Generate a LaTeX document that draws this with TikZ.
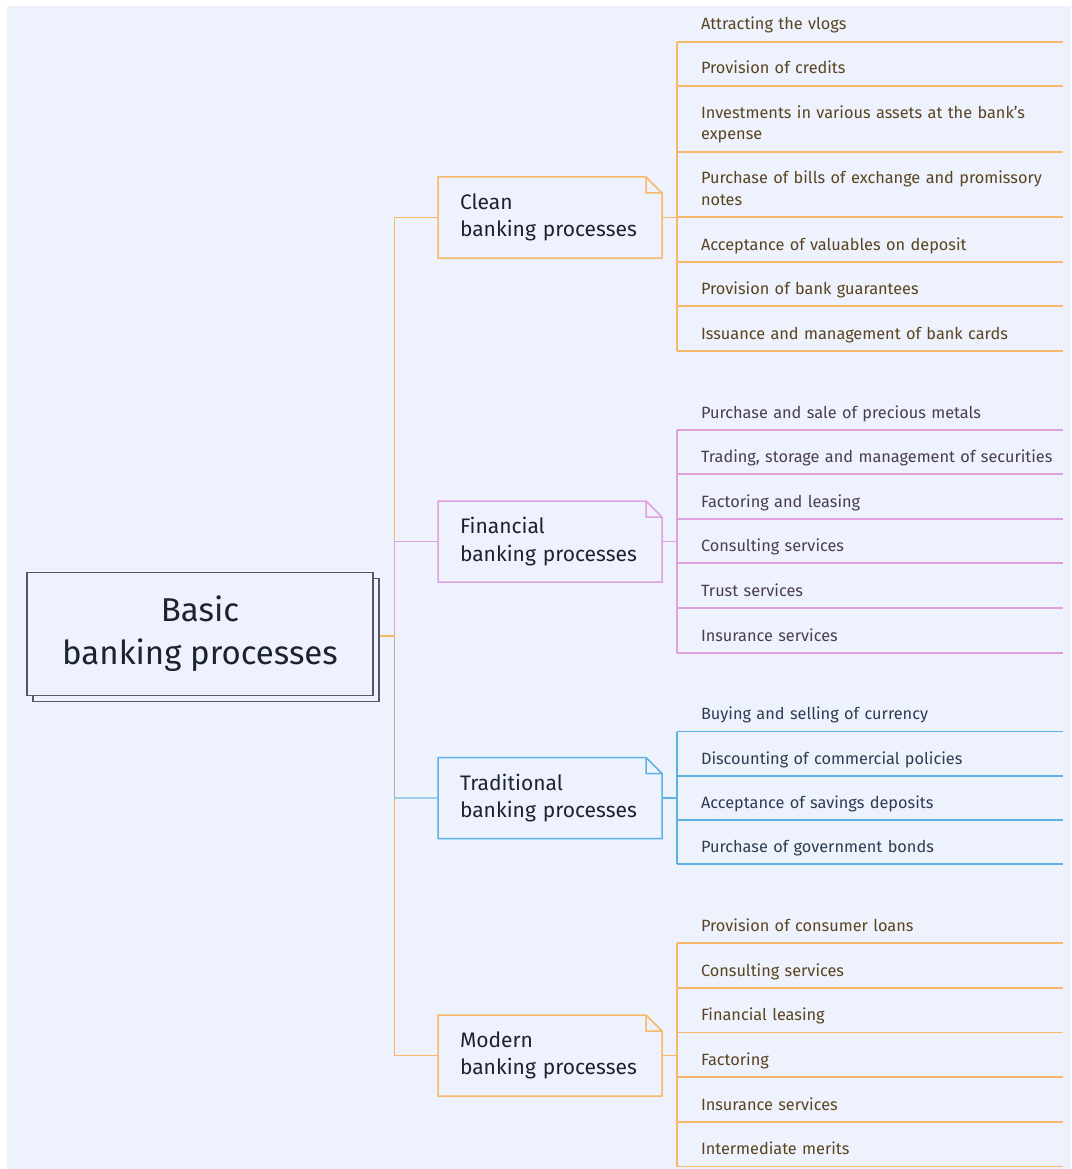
\documentclass[tikz,border=0pt]{standalone}
\usepackage{fontspec}
\setmainfont{Fira Sans}
\usetikzlibrary{shadows}

\definecolor{bg}{HTML}{EDF2FD}
\definecolor{orangec}{HTML}{F7B968}
\definecolor{pinkc}{HTML}{DFA0DF}
\definecolor{bluec}{HTML}{5CB2E2}
\definecolor{rootc}{HTML}{55566F}
\definecolor{headtxt}{HTML}{1D2232}
\definecolor{orangetxt}{HTML}{5A4420}
\definecolor{pinktxt}{HTML}{4A3C52}
\definecolor{bluetxt}{HTML}{2E3C53}

\tikzset{
  rootbox/.style={draw=rootc, fill=bg, line width=1.4pt,
    copy shadow={shadow xshift=6pt, shadow yshift=-6pt},
    minimum width=346pt, minimum height=123pt, align=center,
    text=headtxt, font=\fontsize{33}{43}\selectfont},
  childbox/.style={minimum width=224pt, minimum height=81pt, outer sep=0pt,
    text width=180pt, inner xsep=22pt, align=left,
    text=headtxt, font=\fontsize{21}{27.5}\selectfont},
  leaf/.style={anchor=south west, text width=362pt, inner xsep=0pt,
    inner ysep=0pt, outer sep=0pt, align=left,
    execute at end node={\rule[-12pt]{0pt}{12pt}},
    text=#1, font=\fontsize{16.3}{21}\selectfont},
  wire/.style={draw=#1, line width=1.5pt},
}

% outline of a sub-process box with a folded top-right corner
\newcommand\noteoutline[2]{%
  \draw[wire=#2, line join=miter]
    (#1.south west) -- (#1.north west) -- ([xshift=-16pt]#1.north east)
    -- ([yshift=-16pt]#1.north east) -- (#1.south east) -- cycle
    ([xshift=-16pt]#1.north east) |- ([yshift=-16pt]#1.north east);}

\begin{document}
\begin{tikzpicture}[x=1pt, y=-1pt]
  \useasboundingbox (0,0) rectangle (1071,1169);
  \fill[white] (0,0) rectangle (1071,1169);
  \fill[bg] (7,6) rectangle (1071,1169);

  % main topic
  \node[rootbox] (root) at (200,634) {Basic\\banking processes};
  \coordinate (rootout) at ([xshift=6pt, yshift=-2pt]root.east);

  % sub-processes
  \node[childbox] (clean) at (550,217.5) {Clean\\banking processes};
  \node[childbox] (fin)   at (550,541.5) {Financial\\banking processes};
  \node[childbox] (trad)  at (550,798)   {Traditional\\banking processes};
  \node[childbox] (mod)   at (550,1055.5){Modern\\banking processes};
  \noteoutline{clean}{orangec}
  \noteoutline{fin}{pinkc}
  \noteoutline{trad}{bluec}
  \noteoutline{mod}{orangec}

  % branches from the main topic
  \draw[wire=orangec] (rootout) -- ++(15,0) |- (clean.west);
  \draw[wire=orangec] (rootout) -- ++(15,0) |- (mod.west);
  \draw[wire=pinkc]   (rootout) -- ++(15,0) |- (fin.west);
  \draw[wire=bluec, opacity=0.55] (rootout) -- ++(15,0) |- (trad.west);
  \draw[wire=orangec] (rootout) -- ++(15,0);

  % clean banking processes
  \node[leaf=orangetxt] (c1) at (701,42)  {Attracting the vlogs};
  \node[leaf=orangetxt] (c2) at (701,86)  {Provision of credits};
  \node[leaf=orangetxt] (c3) at (701,152) {Investments in various assets at the bank's\\expense};
  \node[leaf=orangetxt] (c4) at (701,217) {Purchase of bills of exchange and promissory\\notes};
  \node[leaf=orangetxt] (c5) at (701,262) {Acceptance of valuables on deposit};
  \node[leaf=orangetxt] (c6) at (701,306) {Provision of bank guarantees};
  \node[leaf=orangetxt] (c7) at (701,351) {Issuance and management of bank cards};
  \coordinate (cs1) at ([xshift=-24pt]c1.south west);
  \coordinate (cs7) at ([xshift=-24pt]c7.south west);
  \foreach \n in {c1,c2,c3,c4,c5,c6,c7}
    \draw[wire=orangec] ([xshift=-24pt]\n.south west) -- (\n.south east);
  \draw[wire=orangec] (cs1) -- (cs7);
  \draw[wire=orangec] (clean.east) -- (clean.east -| cs1);

  % financial banking processes
  \node[leaf=pinktxt] (f1) at (701,430) {Purchase and sale of precious metals};
  \node[leaf=pinktxt] (f2) at (701,474) {Trading, storage and management of securities};
  \node[leaf=pinktxt] (f3) at (701,519) {Factoring and leasing};
  \node[leaf=pinktxt] (f4) at (701,563) {Consulting services};
  \node[leaf=pinktxt] (f5) at (701,608) {Trust services};
  \node[leaf=pinktxt] (f6) at (701,653) {Insurance services};
  \coordinate (fs1) at ([xshift=-24pt]f1.south west);
  \coordinate (fs6) at ([xshift=-24pt]f6.south west);
  \foreach \n in {f1,f2,f3,f4,f5,f6}
    \draw[wire=pinkc] ([xshift=-24pt]\n.south west) -- (\n.south east);
  \draw[wire=pinkc] (fs1) -- (fs6);
  \draw[wire=pinkc] (fin.east) -- (fin.east -| fs1);

  % traditional banking processes
  \node[leaf=bluetxt] (t1) at (701,731.5) {Buying and selling of currency};
  \node[leaf=bluetxt] (t2) at (701,776)   {Discounting of commercial policies};
  \node[leaf=bluetxt] (t3) at (701,820)   {Acceptance of savings deposits};
  \node[leaf=bluetxt] (t4) at (701,864)   {Purchase of government bonds};
  \coordinate (ts1) at ([xshift=-24pt]t1.south west);
  \coordinate (ts4) at ([xshift=-24pt]t4.south west);
  \foreach \n in {t1,t2,t3,t4}
    \draw[wire=bluec] ([xshift=-24pt]\n.south west) -- (\n.south east);
  \draw[wire=bluec] (ts1) -- (ts4);
  \draw[wire=bluec] (trad.east) -- (trad.east -| ts1);

  % modern banking processes
  \node[leaf=orangetxt] (m1) at (701,943)    {Provision of consumer loans};
  \node[leaf=orangetxt] (m2) at (701,988)    {Consulting services};
  \node[leaf=orangetxt] (m3) at (701,1032.5) {Financial leasing};
  \node[leaf=orangetxt] (m4) at (701,1077)   {Factoring};
  \node[leaf=orangetxt] (m5) at (701,1122)   {Insurance services};
  \node[leaf=orangetxt] (m6) at (701,1166.5) {Intermediate merits};
  \coordinate (ms1) at ([xshift=-24pt]m1.south west);
  \coordinate (ms6) at ([xshift=-24pt]m6.south west);
  \foreach \n in {m1,m2,m3,m4,m5,m6}
    \draw[wire=orangec] ([xshift=-24pt]\n.south west) -- (\n.south east);
  \draw[wire=orangec] (ms1) -- (ms6);
  \draw[wire=orangec] (mod.east) -- (mod.east -| ms1);
\end{tikzpicture}
\end{document}
